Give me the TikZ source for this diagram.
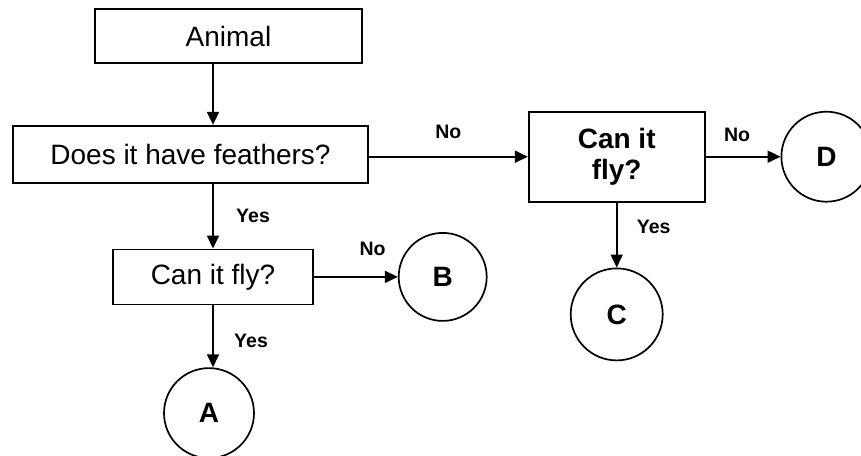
\documentclass[tikz,border=0pt]{standalone}
\usepackage{fontspec}
\setmainfont{Liberation Sans}
\usetikzlibrary{arrows.meta, positioning}

\begin{document}
\begin{tikzpicture}[
    x=1pt, y=-1pt,
    node distance=60pt and 80pt,
    block/.style={rectangle, draw, line width=1.7pt, inner sep=0pt, minimum width=#1, align=center, font=\fontsize{28}{31}\selectfont},
    block/.default=200pt,
    leaf/.style={circle, draw, line width=1.7pt, inner sep=0pt, minimum size=#1, font=\fontsize{28}{31}\selectfont\bfseries},
    leaf/.default=90pt,
    arrow/.style={-{Triangle[length=13pt, width=12pt]}, line width=1.8pt},
    label/.style={font=\fontsize{19.5}{21}\selectfont\bfseries}
]
\useasboundingbox (0,0) rectangle (861,455);

% Questions
\node[block=267pt, minimum height=54pt] (animal) at (228.5,36) {Animal};
\node[block=355pt, minimum height=57pt, below=61pt of animal, xshift=-38pt] (feathers) {Does it have feathers?};
\node[block=200pt, minimum height=55pt, below=65pt of feathers, xshift=22.5pt] (flyleft) {Can it fly?};
\node[block=176pt, minimum height=90pt, right=159pt of feathers, yshift=-2.5pt, font=\fontsize{28}{31}\selectfont\bfseries] (flyright) {Can it\\fly?};

% Answers
\node[leaf=90pt, below=62pt of flyleft, xshift=-4pt] (ansA) {A};
\node[leaf=88pt, right=84pt of flyleft] (ansB) {B};
\node[leaf=92pt, below=65pt of flyright] (ansC) {C};
\node[leaf=90pt, right=75pt of flyright] (ansD) {D};

% Trunk line
\coordinate (trunk) at (213,0);

% Arrows
\draw[arrow] (animal.south -| trunk) -- (feathers.north -| trunk);
\draw[arrow] (feathers.south -| trunk) -- node[right=19pt, label] {Yes} (flyleft.north -| trunk);
\draw[arrow] (flyleft.south -| trunk) -- node[right=17pt, label, yshift=-5pt] {Yes} (ansA.north -| trunk);
\draw[arrow] (flyleft) -- node[pos=0.7, above=17pt, label] {No} (ansB);
\draw[arrow] (feathers.east |- flyright.west) -- node[above=14pt, label] {No} (flyright.west);
\draw[arrow] (flyright) -- node[pos=0.42, above=11pt, label] {No} (ansD);
\draw[arrow] (flyright) -- node[right=16pt, label, yshift=8pt] {Yes} (ansC);

\end{tikzpicture}
\end{document}
